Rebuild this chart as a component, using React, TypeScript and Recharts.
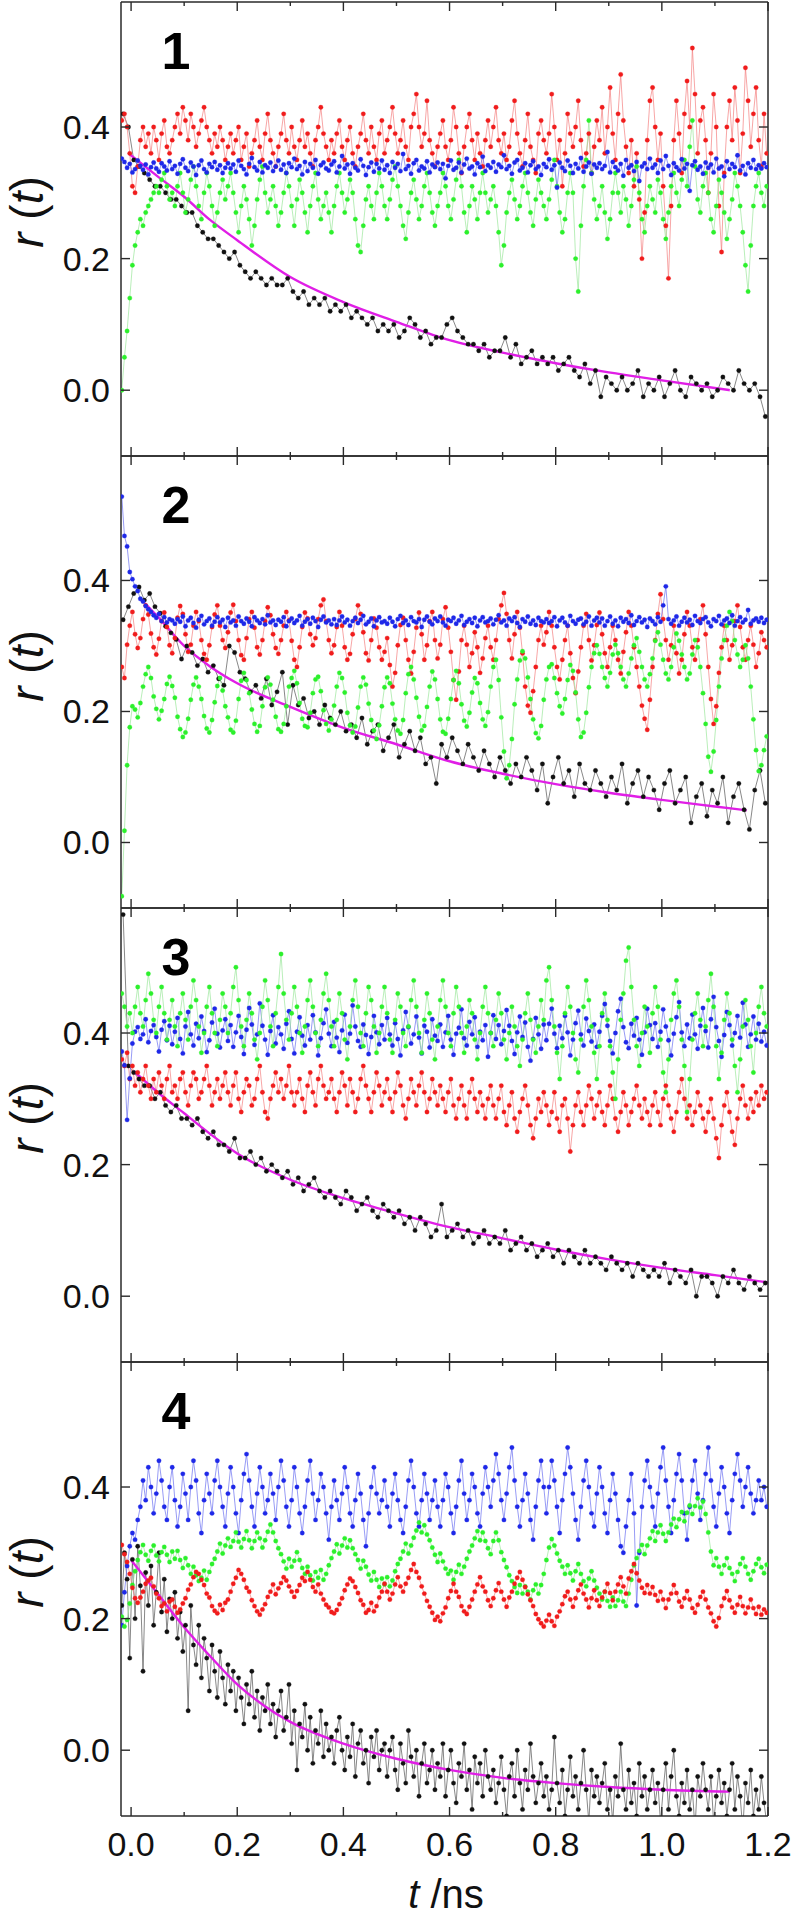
import React from "react";
import { LineChart, Line, XAxis, YAxis, Label } from "recharts";

// two sampling grids (ns): the black traces of panels 1-3 are sparser
const coarseGrid = { start: -0.015, step: 0.01 };
const fineGrid = { start: -0.0175, step: 0.005 };

// r(t) values: "c" arrays are in units of 0.01, "m" arrays in units of 0.001

// ---- panel 1 ----
const black1c = [
  42, 40, 35, 34, 33, 32, 31, 31, 30, 29,
  29, 28, 27, 27, 25, 24, 23, 23, 22, 21,
  20, 21, 19, 18, 17, 18, 17, 16, 17, 16,
  16, 17, 15, 14, 15, 13, 14, 13, 14, 12,
  13, 12, 13, 11, 12, 11, 10, 11, 9, 10,
  9, 10, 8, 9, 11, 10, 8, 9, 7, 8,
  8, 10, 11, 9, 8, 7, 7, 6, 7, 5,
  6, 6, 8, 5, 7, 4, 5, 6, 4, 5,
  4, 5, 3, 4, 5, 3, 2, 4, 1, 3,
  -1, 2, 1, 0, 2, 0, 1, 3, -1, 1,
  0, 2, -1, 1, 3, 0, -1, 2, 1, 0,
  1, -1, 0, 2, 1, 0, 3, 1, 0, 1,
  -1, -4,
];
const red1c = [
  41, 42, 40, 36, 31, 30, 34, 38, 40, 37, 39, 36, 40, 38, 35, 39, 41, 37, 36, 38,
  40, 42, 39, 43, 41, 38, 42, 40, 37, 39, 41, 43, 40, 38, 36, 39, 37, 40, 38, 35,
  37, 39, 36, 38, 40, 35, 37, 39, 34, 36, 38, 41, 37, 35, 39, 42, 38, 36, 34, 37,
  39, 42, 38, 36, 40, 37, 35, 38, 41, 37, 39, 36, 34, 38, 40, 43, 39, 37, 35, 38,
  36, 39, 41, 37, 35, 38, 40, 36, 34, 37, 39, 42, 38, 36, 40, 37, 35, 39, 41, 36,
  38, 40, 43, 39, 36, 38, 41, 37, 35, 40, 42, 45, 40, 37, 39, 44, 38, 36, 34, 37,
  39, 41, 37, 35, 38, 43, 40, 36, 33, 37, 40, 42, 38, 35, 39, 36, 34, 38, 41, 37,
  40, 43, 38, 36, 39, 35, 37, 41, 44, 39, 36, 34, 38, 42, 37, 35, 33, 39, 41, 38,
  36, 39, 45, 40, 35, 38, 31, 36, 42, 39, 37, 40, 44, 38, 34, 36, 39, 33, 37, 41,
  38, 43, 36, 40, 46, 39, 35, 42, 48, 41, 37, 33, 38, 31, 36, 29, 20, 27, 38, 44,
  46, 40, 35, 39, 31, 25, 17, 28, 38, 44, 39, 33, 42, 47, 40, 52, 45, 36, 41, 43,
  38, 30, 36, 45, 40, 28, 21, 33, 40, 44, 38, 46, 41, 33, 39, 49, 44, 37, 42, 46,
  38, 34, 42, 36,
];
const green1c = [
  0, 5, 9, 14, 19, 22, 24, 26, 25, 27, 28, 29, 30, 31, 30, 32, 33, 31, 29, 30,
  28, 31, 33, 30, 27, 29, 32, 34, 31, 28, 26, 30, 33, 31, 28, 25, 27, 30, 32, 29,
  31, 33, 30, 27, 24, 28, 31, 29, 26, 22, 25, 29, 32, 34, 30, 27, 29, 31, 28, 25,
  27, 30, 33, 31, 28, 25, 29, 32, 30, 27, 24, 28, 31, 33, 29, 26, 28, 30, 27, 24,
  28, 31, 33, 30, 27, 29, 32, 30, 26, 22, 21, 25, 29, 31, 28, 26, 30, 33, 31, 28,
  26, 29, 32, 34, 31, 28, 25, 23, 27, 30, 32, 29, 26, 28, 31, 33, 30, 27, 25, 28,
  30, 33, 31, 28, 26, 29, 32, 35, 31, 27, 24, 28, 31, 29, 26, 30, 33, 30, 27, 29,
  31, 28, 24, 19, 22, 27, 30, 32, 29, 26, 28, 31, 33, 30, 27, 25, 29, 32, 30, 28,
  26, 29, 32, 35, 31, 27, 24, 26, 30, 33, 30, 20, 15, 25, 31, 35, 41, 33, 29, 26,
  28, 31, 27, 23, 26, 30, 33, 30, 27, 31, 29, 25, 28, 32, 34, 30, 26, 24, 28, 31,
  29, 27, 32, 30, 26, 23, 27, 31, 33, 30, 28, 32, 35, 31, 37, 41, 34, 29, 27, 31,
  33, 30, 26, 24, 28, 32, 30, 27, 23, 26, 29, 33, 31, 28, 24, 19, 15, 22, 28, 31,
  33, 30, 28, 31,
];
const blue1m = [
  352, 347, 338, 344, 331, 336, 349, 341, 335, 343, 328, 339, 346, 337, 332, 345, 340, 334, 348, 336,
  341, 329, 344, 351, 338, 333, 346, 340, 327, 342, 349, 336, 331, 344, 339, 347, 335, 342, 330, 338,
  345, 337, 343, 332, 349, 341, 336, 328, 344, 353, 339, 334, 347, 331, 342, 338, 346, 333, 340, 349,
  335, 343, 330, 345, 339, 352, 336, 341, 328, 347, 333, 344, 338, 350, 329, 342, 346, 337, 334, 343,
  348, 331, 340, 356, 337, 343, 329, 345, 338, 334, 351, 341, 327, 339, 346, 332, 344, 337, 349, 335,
  342, 330, 347, 338, 344, 333, 359, 336, 341, 329, 345, 350, 334, 340, 337, 348, 331, 343, 339, 346,
  336, 344, 322, 341, 349, 335, 338, 346, 331, 343, 352, 337, 340, 328, 345, 339, 355, 333, 342, 338,
  347, 332, 343, 339, 357, 336, 341, 329, 346, 350, 334, 338, 345, 331, 342, 348, 336, 340, 327, 344,
  339, 351, 335, 342, 308, 346, 338, 333, 349, 341, 330, 344, 337, 353, 332, 340, 346, 329, 343, 338,
  345, 336, 341, 362, 331, 347, 339, 334, 344, 326, 350, 338, 342, 333, 347, 318, 340, 345, 336, 352,
  338, 343, 330, 349, 336, 356, 341, 327, 345, 339, 334, 351, 337, 344, 303, 342, 348, 335, 340, 329,
  346, 338, 343, 331, 352, 337, 340, 325, 348, 336, 344, 339, 357, 334, 341, 328, 345, 338, 350, 336,
  342, 337, 345, 339,
];
const fit1T = [-0.005, 0.05, 0.1, 0.15, 0.2, 0.3, 0.4, 0.5, 0.6, 0.7, 0.8, 0.9, 1.0, 1.128];
const fit1V = [0.36, 0.325, 0.294, 0.258, 0.228, 0.172, 0.134, 0.104, 0.076, 0.057, 0.041, 0.027, 0.015, 0.0];

// ---- panel 2 ----
const black2c = [
  34, 36, 38, 39, 37, 38, 36, 35, 33, 32,
  31, 28, 30, 29, 27, 28, 26, 27, 25, 24,
  30, 29, 26, 25, 23, 24, 22, 25, 21, 23,
  26, 18, 24, 21, 22, 19, 20, 18, 21, 19,
  18, 20, 17, 18, 16, 19, 15, 17, 18, 14,
  16, 18, 13, 15, 17, 14, 16, 12, 13, 9,
  15, 13, 16, 14, 12, 15, 13, 11, 14, 12,
  10, 13, 11, 9, 12, 10, 13, 11, 8, 12,
  6, 10, 13, 9, 11, 7, 12, 9, 8, 11,
  9, 7, 10, 8, 12, 6, 9, 11, 7, 10,
  8, 5, 9, 11, 6, 8, 10, 3, 7, 9,
  4, 8, 6, 10, 3, 7, 9, 5, 2, 8,
  11, 6,
];
const red2m = [
  268, 251, 302, 331, 352, 318, 297, 312, 341, 362, 348, 319, 298, 287, 311, 338, 351, 329, 301, 289,
  312, 343, 361, 349, 318, 291, 302, 331, 352, 338, 309, 288, 279, 301, 329, 348, 362, 331, 309, 297,
  321, 351, 363, 338, 309, 286, 279, 312, 341, 352, 328, 298, 287, 309, 338, 359, 347, 318, 297, 288,
  309, 331, 352, 339, 308, 279, 268, 298, 329, 351, 342, 318, 301, 312, 341, 362, 371, 338, 309, 289,
  301, 329, 352, 331, 298, 279, 288, 318, 341, 362, 349, 321, 289, 278, 309, 342, 328, 298, 279, 291,
  312, 271, 238, 259, 301, 332, 343, 309, 279, 258, 291, 328, 351, 318, 279, 301, 338, 352, 309, 281,
  302, 341, 359, 328, 291, 248, 218, 261, 309, 331, 302, 268, 289, 321, 298, 259, 281, 312, 331, 298,
  279, 309, 341, 362, 381, 349, 309, 281, 318, 352, 328, 289, 238, 209, 198, 231, 268, 309, 331, 302,
  321, 352, 331, 298, 268, 249, 279, 309, 331, 289, 251, 228, 261, 298, 331, 349, 309, 278, 301, 332,
  351, 318, 289, 268, 298, 331, 309, 279, 258, 291, 321, 352, 331, 298, 268, 238, 209, 189, 172, 218,
  268, 309, 349, 379, 341, 309, 279, 301, 331, 289, 258, 279, 318, 352, 331, 298, 279, 309, 341, 362,
  318, 268, 219, 181, 208, 259, 298, 331, 309, 279, 301, 338, 362, 329, 298, 279, 309, 331, 302, 268,
  289, 321, 309, 298,
];
const green2m = [
  -82, 18, 118, 176, 208, 203, 191, 213, 238, 257, 268, 251, 223, 204, 188, 201, 219, 242, 253, 239,
  221, 192, 173, 161, 168, 189, 218, 241, 252, 238, 219, 193, 174, 168, 187, 214, 239, 251, 232, 208,
  191, 172, 168, 186, 219, 247, 259, 248, 228, 203, 181, 169, 178, 208, 237, 252, 241, 218, 192, 173,
  169, 181, 208, 238, 251, 262, 243, 213, 189, 178, 176, 198, 228, 249, 253, 231, 202, 181, 171, 188,
  209, 238, 259, 251, 229, 198, 179, 168, 177, 206, 238, 252, 241, 212, 187, 171, 158, 179, 208, 237,
  252, 243, 212, 188, 171, 166, 187, 228, 257, 268, 249, 221, 192, 171, 178, 207, 238, 261, 249, 219,
  188, 169, 166, 189, 219, 248, 262, 243, 211, 186, 177, 198, 229, 251, 243, 213, 188, 178, 199, 238,
  268, 279, 248, 191, 139, 98, 118, 158, 211, 249, 278, 292, 281, 252, 219, 188, 167, 159, 178, 218,
  249, 268, 272, 251, 228, 208, 197, 219, 248, 271, 262, 229, 188, 161, 168, 198, 237, 268, 289, 301,
  288, 268, 251, 238, 259, 287, 302, 289, 268, 249, 238, 258, 281, 301, 312, 291, 268, 249, 238, 257,
  281, 308, 321, 302, 279, 258, 249, 268, 298, 319, 308, 287, 268, 249, 258, 287, 309, 298, 268, 228,
  181, 131, 108, 139, 187, 238, 281, 309, 331, 352, 338, 309, 287, 268, 279, 301, 281, 238, 188, 141,
  109, 118, 141, 162,
];
const blue2m = [
  528, 468, 452, 413, 402, 391, 384, 372, 368, 361, 356, 352, 347, 343, 349, 338, 344, 336, 341, 339,
  334, 341, 337, 345, 330, 339, 343, 335, 328, 340, 346, 333, 338, 342, 331, 337, 344, 336, 340, 329,
  343, 336, 339, 331, 345, 338, 334, 342, 337, 330, 344, 339, 335, 341, 333, 347, 336, 339, 332, 340,
  337, 344, 330, 338, 342, 335, 339, 346, 331, 337, 341, 334, 343, 338, 329, 340, 345, 336, 339, 333,
  341, 332, 339, 345, 336, 340, 331, 338, 343, 335, 340, 346, 333, 337, 342, 330, 339, 344, 336, 338,
  334, 343, 337, 330, 341, 346, 335, 339, 332, 344, 338, 336, 341, 329, 340, 345, 337, 333, 342, 338,
  345, 336, 331, 340, 338, 343, 334, 339, 346, 332, 337, 341, 335, 343, 330, 339, 344, 336, 338, 342,
  333, 340, 347, 336, 339, 331, 342, 338, 344, 335, 329, 341, 337, 345, 334, 339, 332, 343, 338, 336,
  341, 335, 338, 344, 330, 339, 343, 336, 331, 346, 338, 334, 340, 342, 333, 337, 345, 331, 339, 343,
  336, 342, 331, 338, 345, 334, 339, 330, 343, 337, 341, 335, 347, 332, 338, 344, 336, 340, 329, 342,
  338, 333, 344, 337, 362, 391, 341, 334, 339, 345, 331, 337, 343, 336, 340, 332, 346, 338, 335, 341,
  344, 336, 330, 341, 338, 346, 333, 339, 342, 335, 347, 331, 338, 344, 336, 340, 355, 334, 339, 342,
  337, 343, 335, 340,
];
const fit2T = [0.026, 0.05, 0.1, 0.15, 0.2, 0.3, 0.4, 0.5, 0.6, 0.7, 0.8, 0.9, 1.0, 1.1, 1.16];
const fit2V = [0.365, 0.345, 0.3, 0.268, 0.243, 0.207, 0.175, 0.15, 0.124, 0.105, 0.089, 0.076, 0.065, 0.055, 0.049];

// ---- panel 3 ----
const black3c = [
  58, 35, 34, 33, 32, 32, 30, 31, 29, 28,
  29, 27, 27, 26, 27, 25, 24, 25, 23, 23,
  22, 24, 21, 21, 22, 20, 21, 19, 20, 19,
  18, 19, 17, 18, 16, 17, 18, 16, 15, 16,
  15, 14, 16, 15, 13, 14, 15, 13, 12, 14,
  13, 12, 13, 11, 12, 10, 12, 11, 9, 10,
  14, 9, 10, 11, 9, 10, 8, 9, 10, 8,
  9, 8, 10, 7, 8, 9, 7, 8, 6, 7,
  8, 6, 7, 5, 7, 6, 5, 7, 5, 6,
  5, 4, 6, 5, 4, 5, 3, 5, 4, 3,
  4, 3, 5, 2, 4, 3, 2, 4, 0, 3,
  3, 2, 0, 3, 2, 4, 2, 1, 3, 2,
  1, 2,
];
const red3c = [
  36, 35, 37, 33, 35, 32, 34, 31, 33, 35, 32, 30, 33, 31, 34, 32, 30, 33, 35, 31,
  32, 30, 33, 34, 31, 29, 32, 34, 33, 30, 31, 33, 35, 32, 29, 31, 33, 30, 32, 34,
  31, 29, 32, 34, 30, 28, 31, 33, 32, 29, 30, 33, 35, 31, 28, 27, 30, 32, 34, 31,
  33, 30, 32, 35, 31, 29, 31, 33, 30, 28, 32, 34, 31, 29, 33, 35, 32, 30, 31, 33,
  30, 28, 31, 34, 32, 29, 33, 31, 28, 30, 33, 35, 32, 30, 28, 31, 34, 32, 29, 31,
  33, 30, 28, 31, 34, 32, 29, 27, 30, 33, 31, 29, 32, 34, 31, 28, 30, 33, 31, 29,
  32, 30, 28, 31, 33, 29, 27, 30, 32, 29, 27, 31, 33, 30, 28, 31, 29, 27, 30, 32,
  29, 27, 30, 32, 28, 26, 29, 31, 27, 25, 28, 30, 32, 29, 26, 24, 27, 30, 28, 31,
  29, 26, 28, 31, 27, 25, 29, 30, 27, 22, 26, 29, 31, 28, 26, 29, 32, 30, 27, 29,
  31, 28, 26, 29, 32, 30, 27, 25, 28, 31, 29, 26, 28, 30, 32, 29, 27, 30, 28, 26,
  29, 31, 28, 26, 30, 32, 29, 27, 25, 28, 31, 33, 30, 27, 29, 26, 28, 31, 29, 27,
  25, 28, 30, 27, 24, 21, 26, 29, 31, 28, 25, 23, 27, 30, 32, 29, 27, 30, 28, 31,
  29, 32, 30, 31,
];
const green3c = [
  46, 44, 41, 43, 40, 44, 47, 43, 41, 45, 49, 46, 42, 40, 44, 47, 43, 39, 42, 45,
  41, 38, 43, 46, 42, 39, 44, 48, 45, 41, 37, 40, 44, 47, 43, 40, 38, 42, 46, 44,
  40, 43, 47, 50, 45, 41, 38, 42, 46, 43, 39, 36, 40, 44, 48, 45, 41, 38, 43, 47,
  52, 46, 42, 39, 43, 47, 44, 40, 37, 41, 45, 48, 44, 40, 38, 42, 46, 49, 45, 41,
  38, 42, 46, 43, 39, 36, 41, 45, 48, 44, 40, 38, 43, 47, 45, 41, 37, 40, 44, 47,
  43, 39, 37, 42, 46, 44, 40, 38, 41, 45, 48, 44, 40, 37, 42, 46, 43, 39, 36, 41,
  45, 48, 44, 40, 38, 43, 47, 44, 40, 37, 41, 45, 43, 39, 36, 40, 44, 47, 43, 40,
  38, 42, 46, 43, 39, 36, 40, 44, 41, 38, 35, 39, 43, 46, 42, 39, 37, 41, 45, 42,
  48, 50, 45, 41, 37, 33, 38, 43, 47, 44, 40, 36, 34, 39, 44, 48, 45, 41, 37, 33,
  38, 43, 46, 42, 38, 34, 30, 36, 42, 46, 51, 53, 47, 42, 38, 35, 40, 44, 41, 37,
  43, 47, 44, 39, 34, 31, 36, 42, 46, 48, 44, 39, 35, 28, 33, 39, 43, 46, 42, 38,
  41, 45, 49, 44, 38, 33, 37, 42, 46, 43, 39, 35, 31, 36, 41, 45, 42, 38, 34, 40,
  44, 47, 43, 41,
];
const blue3m = [
  372, 351, 268, 331, 384, 402, 409, 391, 398, 421, 386, 403, 412, 394, 372, 405, 418, 389, 411, 383,
  402, 423, 391, 369, 410, 432, 398, 381, 414, 392, 425, 403, 371, 389, 416, 437, 399, 378, 404, 421,
  388, 412, 379, 401, 426, 394, 368, 405, 438, 413, 382, 398, 445, 411, 390, 367, 403, 427, 384, 409,
  398, 376, 414, 433, 391, 369, 402, 424, 396, 381, 412, 390, 427, 401, 366, 392, 415, 436, 399, 380,
  417, 393, 371, 404, 428, 385, 399, 442, 410, 388, 379, 413, 397, 368, 394, 426, 401, 383, 412, 390,
  423, 398, 381, 415, 391, 366, 404, 432, 409, 384, 398, 425, 393, 369, 411, 402, 378, 421, 396, 388,
  413, 379, 401, 426, 390, 367, 399, 408, 436, 392, 381, 417, 398, 424, 379, 402, 389, 412, 364, 400,
  427, 391, 412, 383, 403, 435, 411, 388, 368, 401, 425, 394, 416, 379, 358, 391, 423, 398, 376, 413,
  389, 414, 437, 399, 377, 411, 392, 426, 401, 366, 390, 415, 434, 398, 381, 422, 403, 387, 413, 379,
  402, 426, 444, 411, 388, 369, 400, 433, 452, 409, 386, 377, 414, 396, 423, 390, 367, 401, 437, 412,
  391, 415, 379, 402, 436, 410, 389, 366, 399, 424, 447, 401, 380, 413, 392, 428, 398, 376, 411, 438,
  403, 378, 421, 455, 409, 388, 364, 397, 432, 412, 381, 400, 426, 393, 446, 413, 379, 398, 425, 390,
  414, 387, 402, 381,
];
const fit3T = [0.005, 0.05, 0.1, 0.15, 0.2, 0.3, 0.4, 0.5, 0.6, 0.7, 0.8, 0.9, 1.0, 1.1, 1.2];
const fit3V = [0.342, 0.31, 0.278, 0.246, 0.217, 0.177, 0.149, 0.126, 0.105, 0.088, 0.071, 0.056, 0.043, 0.032, 0.021];

// ---- panel 4 ----
const black4c = [
  22, 30, 26, 14, 29, 20, 31, 25, 12, 27, 22, 28, 19, 24, 30, 21, 26, 18, 23, 20,
  24, 17, 21, 15, 19, 6, 22, 16, 13, 19, 11, 17, 14, 9, 16, 12, 8, 15, 11, 7,
  13, 9, 12, 6, 11, 8, 4, 10, 7, 12, 5, 9, 3, 8, 6, 10, 4, 7, 2, 6,
  9, 3, 5, 10, 1, 6, -3, 4, 2, 7, 0, 5, -2, 3, 1, 6, -1, 4, 0, 2,
  -2, 3, 5, 0, -3, 2, -1, 4, -4, 1, 3, -2, 0, -5, 2, -1, 3, -3, 0, 1,
  -4, 0, 2, -3, -6, 1, -2, -5, 3, -1, -4, 0, -7, -2, 1, -5, -3, 0, -6, -2,
  -4, 1, -7, -3, 0, -5, -8, -2, -4, 1, -6, -3, -9, -1, -5, -2, -7, 0, -4, -6,
  -3, -8, -5, -1, -6, -10, -4, -2, -7, 0, -5, -9, -3, -6, 1, -4, -8, -5, -2, -7,
  -4, -9, -6, 2, -5, -8, -3, -10, -6, -1, -7, -4, -9, -5, 0, -6, -11, -3, -7, -4,
  -8, -5, -2, -9, -6, -11, -4, -7, 1, -6, -9, -3, -8, -5, -10, -2, -7, -4, -9, -6,
  -3, -8, -5, -11, -6, -2, -9, -4, 0, -7, -10, -5, -8, -3, -9, -6, -12, -4, -7, -2,
  -6, -9, -4, -11, -7, -3, -8, -5, -10, -6, -2, -9, -4, -7, -12, -5, -8, -3, -10, -6,
  -9, -4, -8, -11,
];
const red4m = [
  312, 298, 286, 268, 247, 231, 224, 232, 241, 253, 258, 262, 249, 238, 231, 219, 223, 211, 226, 229,
  218, 209, 214, 223, 231, 244, 252, 263, 271, 268, 259, 251, 238, 232, 219, 212, 208, 221, 213, 224,
  229, 241, 253, 262, 274, 268, 259, 247, 241, 228, 219, 211, 206, 214, 222, 233, 241, 252, 237, 246,
  254, 263, 258, 249, 241, 233, 242, 251, 262, 257, 271, 259, 248, 241, 252, 238, 229, 221, 217, 210,
  208, 213, 222, 231, 243, 252, 261, 257, 248, 239, 228, 221, 209, 213, 224, 211, 219, 232, 241, 253,
  241, 229, 238, 252, 263, 249, 241, 253, 262, 274, 283, 271, 262, 249, 238, 227, 218, 209, 198, 203,
  196, 208, 217, 231, 242, 253, 241, 233, 219, 211, 207, 218, 229, 241, 252, 263, 249, 241, 228, 219,
  231, 243, 254, 241, 229, 218, 232, 241, 253, 262, 271, 259, 248, 237, 228, 219, 207, 199, 193, 188,
  197, 206, 196, 189, 203, 211, 222, 234, 241, 229, 218, 231, 243, 252, 238, 229, 217, 231, 243, 228,
  219, 232, 241, 253, 239, 228, 241, 252, 263, 249, 238, 261, 272, 283, 269, 258, 247, 239, 251, 238,
  248, 236, 227, 241, 229, 216, 229, 238, 251, 239, 226, 218, 231, 242, 229, 216, 209, 221, 233, 241,
  229, 217, 208, 196, 188, 201, 219, 231, 242, 228, 217, 209, 221, 233, 219, 208, 217, 229, 216, 207,
  218, 206, 214, 209,
];
const green4m = [
  203, 188, 198, 223, 251, 272, 289, 301, 312, 297, 288, 303, 311, 296, 287, 301, 309, 297, 286, 302,
  291, 303, 289, 277, 292, 281, 268, 279, 266, 257, 262, 273, 259, 271, 283, 291, 302, 314, 299, 311,
  322, 309, 318, 331, 317, 308, 321, 333, 319, 307, 318, 331, 322, 308, 319, 332, 343, 331, 318, 307,
  298, 287, 276, 291, 279, 288, 301, 289, 277, 268, 279, 266, 258, 271, 262, 274, 259, 268, 281, 292,
  302, 313, 299, 311, 322, 308, 319, 307, 298, 289, 276, 288, 279, 267, 258, 271, 259, 248, 261, 252,
  263, 249, 258, 272, 283, 291, 302, 314, 299, 311, 323, 334, 346, 331, 342, 328, 319, 308, 297, 286,
  299, 287, 276, 268, 273, 259, 271, 282, 268, 279, 291, 302, 311, 322, 333, 319, 331, 318, 307, 298,
  318, 331, 319, 301, 289, 278, 266, 257, 248, 239, 251, 238, 249, 241, 229, 243, 252, 238, 251, 268,
  289, 308, 321, 311, 299, 288, 279, 268, 281, 269, 258, 272, 283, 268, 257, 249, 261, 272, 258, 247,
  238, 229, 241, 227, 218, 232, 219, 228, 241, 226, 219, 238, 259, 281, 292, 303, 312, 298, 311, 322,
  333, 318, 331, 342, 329, 318, 331, 343, 352, 339, 351, 362, 348, 361, 372, 359, 371, 383, 369, 378,
  359, 331, 302, 281, 292, 279, 268, 281, 292, 277, 268, 257, 271, 283, 292, 279, 268, 259, 272, 283,
  291, 278, 269, 282,
];
const blue4c = [
  19, 24, 28, 31, 33, 32, 35, 37, 41, 38, 43, 40, 36, 39, 44, 41, 37, 35, 40, 43,
  38, 34, 37, 42, 39, 35, 40, 44, 41, 36, 33, 38, 42, 39, 36, 41, 44, 40, 37, 34,
  39, 43, 40, 36, 33, 38, 42, 45, 41, 37, 34, 39, 43, 40, 36, 38, 42, 39, 35, 40,
  44, 41, 37, 34, 38, 43, 40, 36, 33, 37, 41, 44, 39, 35, 38, 42, 40, 36, 32, 37,
  41, 38, 35, 39, 43, 40, 36, 34, 38, 42, 39, 35, 31, 36, 40, 43, 39, 36, 38, 41,
  37, 34, 39, 42, 38, 35, 33, 37, 41, 44, 40, 36, 34, 38, 42, 39, 35, 38, 41, 37,
  34, 38, 42, 40, 36, 33, 37, 41, 44, 39, 35, 38, 42, 40, 36, 34, 39, 43, 40, 37,
  41, 45, 42, 38, 35, 39, 43, 46, 41, 37, 34, 38, 42, 39, 35, 32, 37, 41, 44, 40,
  36, 40, 44, 41, 37, 33, 38, 42, 46, 43, 39, 35, 32, 37, 41, 44, 40, 36, 34, 39,
  43, 40, 36, 33, 38, 42, 39, 35, 31, 30, 34, 38, 42, 36, 22, 30, 37, 41, 44, 40,
  37, 34, 39, 43, 46, 41, 37, 33, 38, 42, 45, 41, 36, 32, 37, 41, 44, 39, 35, 38,
  42, 46, 41, 37, 34, 39, 43, 40, 36, 33, 38, 42, 45, 41, 37, 40, 43, 39, 36, 38,
  41, 38, 40, 37,
];
const fit4T = [0.0, 0.05, 0.1, 0.15, 0.2, 0.25, 0.3, 0.4, 0.5, 0.6, 0.7, 0.8, 0.9, 1.0, 1.128];
const fit4V = [0.289, 0.238, 0.187, 0.142, 0.1, 0.068, 0.043, 0.01, -0.013, -0.03, -0.042, -0.05, -0.056, -0.06, -0.063];

const xTicks = [0, 0.1, 0.2, 0.3, 0.4, 0.5, 0.6, 0.7, 0.8, 0.9, 1.0, 1.1, 1.2];
const yTicks = [0, 0.2, 0.4];
const panelLabels = ["1", "2", "3", "4"];

const xDomain = [-0.019, 1.2];
const yDomain = [-0.1, 0.59];

const panelTop = [2, 456, 908, 1362];
const panelHeight = [454, 452, 454, 454];

const dotColor = { k: "#111111", r: "#f01c1c", g: "#2cf02c", b: "#1e28e8" };
const lineColor = { k: "#555555", r: "#f38080", g: "#9be69b", b: "#6a70f0" };
const fitColor = "#e01ee6";
const frame = "#2a2a2a";
const font = "'Liberation Sans', Arial, Helvetica, sans-serif";

type Key = "k" | "r" | "g" | "b";
type Grid = { start: number; step: number };
const C = 0.01;
const M = 0.001;

const panels = [
  {
    traces: [
      { key: "k" as Key, values: black1c, unit: C, grid: coarseGrid },
      { key: "r" as Key, values: red1c, unit: C, grid: fineGrid },
      { key: "g" as Key, values: green1c, unit: C, grid: fineGrid },
      { key: "b" as Key, values: blue1m, unit: M, grid: fineGrid },
    ],
    fitT: fit1T,
    fitV: fit1V,
  },
  {
    traces: [
      { key: "k" as Key, values: black2c, unit: C, grid: coarseGrid },
      { key: "r" as Key, values: red2m, unit: M, grid: fineGrid },
      { key: "g" as Key, values: green2m, unit: M, grid: fineGrid },
      { key: "b" as Key, values: blue2m, unit: M, grid: fineGrid },
    ],
    fitT: fit2T,
    fitV: fit2V,
  },
  {
    traces: [
      { key: "k" as Key, values: black3c, unit: C, grid: coarseGrid },
      { key: "r" as Key, values: red3c, unit: C, grid: fineGrid },
      { key: "b" as Key, values: blue3m, unit: M, grid: fineGrid },
      { key: "g" as Key, values: green3c, unit: C, grid: fineGrid },
    ],
    fitT: fit3T,
    fitV: fit3V,
  },
  {
    traces: [
      { key: "k" as Key, values: black4c, unit: C, grid: fineGrid },
      { key: "b" as Key, values: blue4c, unit: C, grid: fineGrid },
      { key: "g" as Key, values: green4m, unit: M, grid: fineGrid },
      { key: "r" as Key, values: red4m, unit: M, grid: fineGrid },
    ],
    fitT: fit4T,
    fitV: fit4V,
  },
];

const toRows = (values: number[], unit: number, grid: Grid) =>
  values.map((v, i) => ({
    t: Math.round((grid.start + i * grid.step) * 10000) / 10000,
    v: Math.round(v * unit * 10000) / 10000,
  }));

const isMajor = (v: number) => Math.round(v * 10) % 2 === 0;

const BottomTick = ({ x, y, payload, showLabel }: any) => {
  const v = payload.value;
  const major = isMajor(v);
  return (
    <g>
      <line x1={x} y1={y} x2={x} y2={y - (major ? 9 : 4)} stroke={frame} strokeWidth={1.4} />
      {showLabel && major && (
        <text x={x} y={y + 40} textAnchor="middle" fontSize={34} fontFamily={font} fill="#111">
          {v.toFixed(1)}
        </text>
      )}
    </g>
  );
};

const TopTick = ({ x, y, payload }: any) => {
  const major = isMajor(payload.value);
  return <line x1={x} y1={y} x2={x} y2={y + (major ? 9 : 4)} stroke={frame} strokeWidth={1.4} />;
};

const LeftTick = ({ x, y, payload }: any) => (
  <g>
    <line x1={x} y1={y} x2={x + 9} y2={y} stroke={frame} strokeWidth={1.4} />
    <text x={x - 11} y={y + 12} textAnchor="end" fontSize={34} fontFamily={font} fill="#111">
      {payload.value.toFixed(1)}
    </text>
  </g>
);

const RightTick = ({ x, y }: any) => (
  <line x1={x} y1={y} x2={x - 9} y2={y} stroke={frame} strokeWidth={1.4} />
);

const YTitle = ({ top }: any) => (
  <text
    transform={`translate(43, ${top + 210}) rotate(-90)`}
    textAnchor="middle"
    fontSize={46}
    fontFamily={font}
    fill="#111"
  >
    <tspan fontStyle="italic">r</tspan>
    <tspan> (</tspan>
    <tspan fontStyle="italic">t</tspan>
    <tspan>)</tspan>
  </text>
);

const PanelNumber = ({ text, top }: any) => (
  <text x={176} y={top + 67} textAnchor="middle" fontSize={52} fontWeight="bold" fontFamily={font} fill="#000">
    {text}
  </text>
);

const XTitle = ({ y }: any) => (
  <text x={446} y={y + 92} textAnchor="middle" fontSize={40} fontFamily={font} fill="#111">
    <tspan fontStyle="italic">t</tspan>
    <tspan> /ns</tspan>
  </text>
);

function Panel({ index }: { index: number }) {
  const p = panels[index];
  const last = index === panels.length - 1;
  const fit = p.fitT.map((t, i) => ({ t, v: p.fitV[i] }));
  const extra = last ? 100 : 0;
  const h = panelHeight[index];
  const plotTop = 4;
  const plotBottom = 4 + h;

  return (
    <div style={{ position: "absolute", left: 0, top: panelTop[index] - 4 }}>
      <LineChart
        width={792}
        height={h + 8 + extra}
        margin={{ top: 3, right: 23, bottom: 3 + extra, left: 0 }}
      >
        <XAxis
          xAxisId="x"
          dataKey="t"
          type="number"
          orientation="bottom"
          domain={xDomain}
          allowDataOverflow
          ticks={xTicks}
          interval={0}
          height={1}
          tickSize={0}
          tickMargin={0}
          tickLine={false}
          axisLine={{ stroke: frame, strokeWidth: 1.5 }}
          tick={(props: any) => <BottomTick {...props} showLabel={last} />}
        >
          {last && <Label content={() => <XTitle y={plotBottom} />} />}
        </XAxis>
        <XAxis
          xAxisId="xt"
          dataKey="t"
          type="number"
          orientation="top"
          domain={xDomain}
          allowDataOverflow
          ticks={xTicks}
          interval={0}
          height={1}
          tickSize={0}
          tickMargin={0}
          tickLine={false}
          axisLine={{ stroke: frame, strokeWidth: 1.5 }}
          tick={(props: any) => <TopTick {...props} />}
        >
          <Label content={() => <PanelNumber text={panelLabels[index]} top={plotTop} />} />
        </XAxis>
        <YAxis
          yAxisId="y"
          type="number"
          orientation="left"
          domain={yDomain}
          allowDataOverflow
          ticks={yTicks}
          interval={0}
          width={121}
          tickSize={0}
          tickMargin={0}
          tickLine={false}
          axisLine={{ stroke: frame, strokeWidth: 1.5 }}
          tick={(props: any) => <LeftTick {...props} />}
        >
          <Label content={() => <YTitle top={plotTop} />} />
        </YAxis>
        <YAxis
          yAxisId="yr"
          type="number"
          orientation="right"
          domain={yDomain}
          allowDataOverflow
          ticks={yTicks}
          interval={0}
          width={1}
          tickSize={0}
          tickMargin={0}
          tickLine={false}
          axisLine={{ stroke: frame, strokeWidth: 1.5 }}
          tick={(props: any) => <RightTick {...props} />}
        />
        {p.traces.map((tr) => (
          <Line
            key={tr.key}
            xAxisId="x"
            yAxisId="y"
            data={toRows(tr.values, tr.unit, tr.grid)}
            dataKey="v"
            type="linear"
            stroke={lineColor[tr.key]}
            strokeWidth={0.7}
            dot={{ r: 2.2, fill: dotColor[tr.key], stroke: dotColor[tr.key], strokeWidth: 0.3 }}
            activeDot={false}
            isAnimationActive={false}
          />
        ))}
        <Line
          xAxisId="x"
          yAxisId="y"
          data={fit}
          dataKey="v"
          type="monotone"
          stroke={fitColor}
          strokeWidth={2.4}
          dot={false}
          activeDot={false}
          isAnimationActive={false}
        />
      </LineChart>
    </div>
  );
}

export default function App() {
  return (
    <div
      style={{
        position: "absolute",
        left: 0,
        top: 0,
        width: 792,
        height: 1916,
        background: "#ffffff",
        overflow: "hidden",
      }}
    >
      {panels.map((_, i) => (
        <Panel key={i} index={i} />
      ))}
    </div>
  );
}
